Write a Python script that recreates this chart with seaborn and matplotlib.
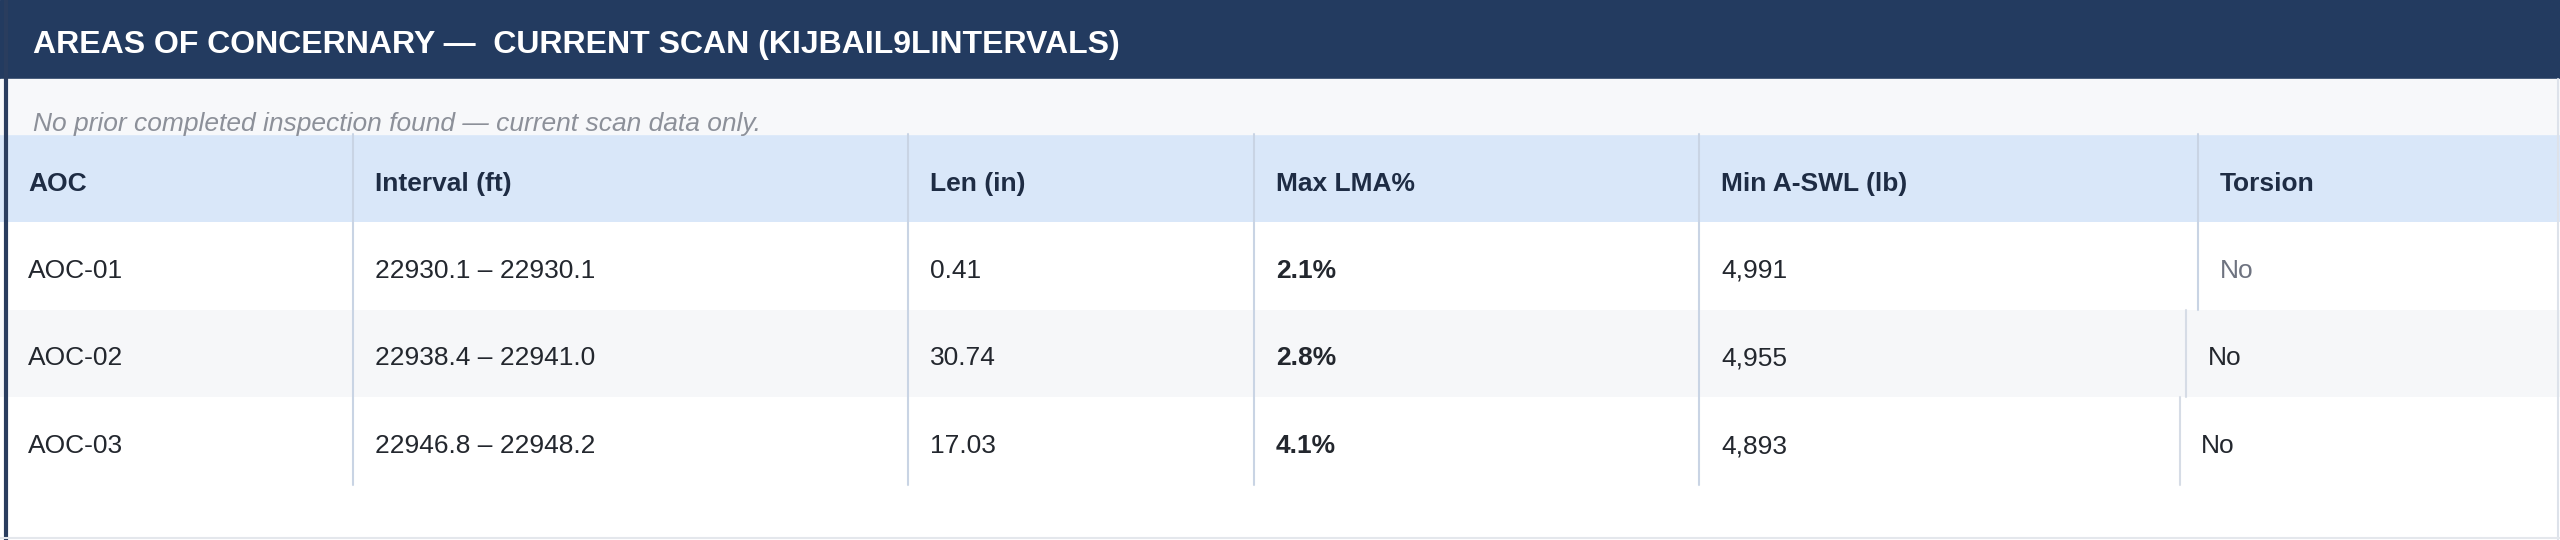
import matplotlib
matplotlib.use("Agg")
import matplotlib.pyplot as plt
from matplotlib.colors import ListedColormap
from matplotlib.patches import Rectangle
import seaborn as sns
import numpy as np

# Table data
columns = ["AOC", "Interval (ft)", "Len (in)", "Max LMA%", "Min A-SWL (lb)", "Torsion"]
aoc = ["AOC-01", "AOC-02", "AOC-03"]
interval_start = [22930.1, 22938.4, 22946.8]
interval_end = [22930.1, 22941.0, 22948.2]
length_in = [0.41, 30.74, 17.03]
max_lma = [2.1, 2.8, 4.1]
min_aswl = [4991, 4955, 4893]
torsion = ["No", "No", "No"]

title = "AREAS OF CONCERNARY —  CURRENT SCAN (KIJBAIL9LINTERVALS)"
subtitle = "No prior completed inspection found — current scan data only."

sns.set_theme(style="white")
plt.rcParams['font.family'] = ['Liberation Sans', 'DejaVu Sans']

W, H = 2560, 540
fig = plt.figure(figsize=(W / 100, H / 100), dpi=100)
fig.patch.set_facecolor("white")

# layout in pixels
head_h = 79
tab_top, tab_bot = 134, 485
col_x = [0, 353, 908, 1254, 1699, 2198]
pad = 22
# the last column drifts left a little in lower rows
torsion_shift = [0, -12, -19]
line_shift = [0, -12, -18]

# row bands (header + striped body) drawn as a one-column heatmap
tax = fig.add_axes([0, (H - tab_bot) / H, 1, (tab_bot - tab_top) / H])
band = np.array([[2]] + [[i % 2] for i in range(len(aoc))])
sns.heatmap(band, cmap=ListedColormap(["#FFFFFF", "#F6F7F9", "#D9E7F9"]),
            vmin=0, vmax=2, cbar=False, ax=tax,
            xticklabels=False, yticklabels=False)
tax.axis("off")
tax.set_zorder(0)

# overlay in pixel coordinates
ax = fig.add_axes([0, 0, 1, 1])
ax.set_xlim(0, W)
ax.set_ylim(H, 0)
ax.axis("off")
ax.set_zorder(1)

ax.add_patch(Rectangle((0, 0), W, head_h, color="#233B60", zorder=1))
ax.add_patch(Rectangle((0, head_h), W, tab_top - head_h, color="#F7F8FA", zorder=1))
ax.text(33, head_h / 2 + 6, title, color="white", fontsize=23, fontweight="bold",
        va="center", ha="left", zorder=3)
ax.text(33, 124, subtitle, color="#8C9099", fontsize=19, style="italic",
        va="center", ha="left", zorder=3)

row_h = (tab_bot - tab_top) / (len(aoc) + 1)

# column separators
for x in col_x[1:-1]:
    ax.plot([x, x], [tab_top, tab_bot], color="#C9D4E4", lw=1.5, zorder=2)
ax.plot([col_x[-1]] * 2, [tab_top, tab_top + 2 * row_h], color="#C9D4E4", lw=1.5, zorder=2)
for i in range(1, len(aoc)):
    y0 = tab_top + row_h * (i + 1)
    ax.plot([col_x[-1] + line_shift[i]] * 2, [y0, y0 + row_h],
            color="#D6DCE6", lw=1.5, zorder=2)

# borders
ax.plot([6, 6], [0, H], color="#2A3D5E", lw=3, zorder=4)
ax.plot([W - 2, W - 2], [head_h, H], color="#DDE2EA", lw=1.5, zorder=4)
ax.plot([0, W], [H - 2, H - 2], color="#E4E7EC", lw=1.5, zorder=4)

hy = tab_top + row_h / 2 + 6
for x, c in zip(col_x, columns):
    ax.text(x + pad + (6 if x == 0 else 0), hy, c, color="#1E2C44", fontsize=19,
            fontweight="bold", va="center", ha="left", zorder=3)

for i in range(len(aoc)):
    y = tab_top + row_h * (i + 1.5) + 5
    cells = [aoc[i],
             f"{interval_start[i]:.1f} – {interval_end[i]:.1f}",
             f"{length_in[i]:.2f}",
             f"{max_lma[i]:.1f}%",
             f"{min_aswl[i]:,}",
             torsion[i]]
    for j, (x, s) in enumerate(zip(col_x, cells)):
        dx = torsion_shift[i] if j == 5 else 0
        ax.text(x + pad + dx + (6 if x == 0 else 0), y, s,
                color="#6E7380" if (j == 5 and i == 0) else "#23272E",
                fontsize=19, fontweight="bold" if j == 3 else "normal",
                va="center", ha="left", zorder=3)

fig.savefig("out.png", dpi=100)
